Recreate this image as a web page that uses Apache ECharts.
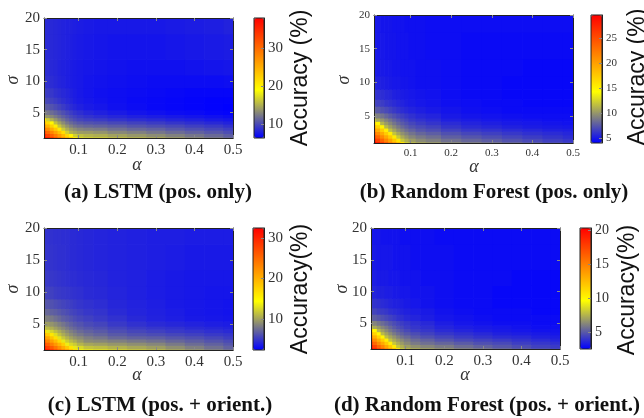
<!DOCTYPE html>
<html><head><meta charset="utf-8">
<script src="https://cdn.jsdelivr.net/npm/echarts@6/dist/echarts.min.js"></script>
<style>html,body{margin:0;padding:0;background:#fff}#c{width:644px;height:418px}</style>
</head><body><div id="c"></div>
<script>
// ---- data ----
const alphaValues = [0.01,0.02,0.03,0.04,0.05,0.06,0.07,0.08,0.09,0.1,0.125,0.15,0.2,0.25,0.3,0.35,0.4,0.45,0.5];
const sigmaValues = [1,1.5,2,2.5,3,3.5,4,4.5,5,6,7,8,10,12,15,20];

const accLstmPos = [
[38,35.8,33.7,31.5,29.3,27.1,24.9,22.8,20.6,17,16.5,16.2,15.6,15,14.5,13.8,13,12.3,11.5],
[35.2,33,30.8,28.7,26.5,24.3,22.1,19.9,16.6,15.8,15.2,14.9,14.3,13.8,13.3,12.7,12.1,11.5,10.9],
[32.4,30.2,28,25.9,23.7,21.5,16.5,15,14.5,14,13.9,13.6,13,12.6,12.1,11.6,11.1,10.6,10.1],
[29.6,27.4,25.2,23.1,20.9,16.3,14.8,13.9,13.3,12.8,12.5,12.3,11.8,11.4,11.1,10.6,10.2,9.8,9.4],
[26.8,24.6,22.4,20.3,16,14.6,13.5,12.6,12,11.6,11.3,11.1,10.8,10.4,10.1,9.8,9.4,9.1,8.7],
[24,21.8,19.6,15.8,14.3,13.2,12.2,11.5,11,10.6,10.3,10.1,9.8,9.5,9.2,8.9,8.6,8.3,8],
[21.2,16.5,15,13.8,12.8,12,11.2,10.6,10.1,9.7,9.4,9.2,8.9,8.6,8.4,8.1,7.9,7.6,7.4],
[14.2,13.6,13,12.3,11.6,11,10.4,9.9,9.5,9.1,8.8,8.5,8.2,7.9,7.7,7.5,7.3,7.1,6.9],
[12.6,12.2,11.7,11.2,10.7,10.2,9.7,9.3,8.9,8.6,8.2,7.9,7.6,7.3,7.1,6.9,6.8,6.6,6.5],
[11.2,10.8,10.4,10,9.6,9.2,8.8,8.5,8.2,7.9,7.6,7.4,7.1,6.9,6.7,6.6,6.5,6.4,6.3],
[10.2,9.8,9.5,9.2,8.9,8.6,8.3,8.1,7.8,7.6,7.4,7.2,7,6.8,6.7,6.6,6.5,6.4,6.4],
[9.5,9.2,9,8.7,8.5,8.3,8.1,7.9,7.7,7.5,7.3,7.1,7,6.9,6.8,6.7,6.6,6.6,6.6],
[8.9,8.7,8.5,8.3,8.1,8,7.8,7.7,7.6,7.5,7.3,7.2,7.1,7,6.9,6.9,6.9,6.9,7],
[8.6,8.5,8.3,8.2,8,7.9,7.8,7.7,7.6,7.5,7.4,7.3,7.2,7.1,7.1,7.1,7.2,7.3,7.4],
[8.5,8.4,8.3,8.2,8.1,8,7.9,7.8,7.7,7.6,7.5,7.4,7.3,7.3,7.3,7.4,7.5,7.6,7.7],
[8.5,8.4,8.3,8.2,8.1,8,7.9,7.9,7.8,7.7,7.6,7.5,7.5,7.5,7.5,7.6,7.7,7.8,8]
];
const accRfPos = [
[29.6,27.7,25.7,23.8,21.8,19.9,17.9,16,12,11.2,10.4,9.9,9.3,8.9,8.5,8,7.5,7,6.6],
[27.5,25.5,23.6,21.6,19.7,17.7,15.8,12,11,10.2,9.5,9.1,8.5,8.1,7.7,7.3,6.9,6.5,6.2],
[25.3,23.4,21.4,19.5,17.5,15.5,12,10.8,10,9.3,8.8,8.4,7.8,7.4,7.1,6.7,6.4,6.1,5.8],
[23.2,21.2,19.3,17.3,15.4,11.8,10.7,9.8,9.2,8.6,8.1,7.7,7.2,6.8,6.5,6.2,5.9,5.7,5.5],
[21,19.1,17.2,15.2,11.6,10.5,9.6,9,8.4,7.9,7.4,7.1,6.6,6.2,6,5.7,5.5,5.3,5.2],
[18.9,16.9,15,11.4,10.3,9.5,8.8,8.2,7.7,7.3,6.9,6.6,6.1,5.7,5.5,5.3,5.1,5,4.9],
[16.7,14.8,11.2,10.2,9.4,8.7,8.1,7.6,7.2,6.8,6.4,6.1,5.7,5.4,5.2,5,4.9,4.8,4.7],
[11.5,10.6,9.9,9.2,8.6,8,7.5,7.1,6.7,6.3,6,5.7,5.3,5.1,4.9,4.8,4.7,4.6,4.6],
[9.6,9.1,8.6,8.1,7.6,7.2,6.8,6.5,6.2,5.9,5.6,5.4,5,4.8,4.7,4.6,4.5,4.5,4.5],
[7.9,7.6,7.2,6.9,6.6,6.3,6,5.8,5.6,5.4,5.2,5,4.8,4.6,4.5,4.4,4.4,4.4,4.4],
[6.8,6.6,6.4,6.1,5.9,5.7,5.5,5.4,5.2,5.1,4.9,4.8,4.6,4.5,4.4,4.4,4.3,4.3,4.3],
[6.1,5.9,5.8,5.6,5.5,5.3,5.2,5.1,5,4.9,4.8,4.7,4.5,4.4,4.4,4.3,4.3,4.3,4.3],
[5.4,5.3,5.2,5.1,5,4.9,4.9,4.8,4.8,4.7,4.6,4.6,4.5,4.4,4.4,4.3,4.3,4.3,4.3],
[5.1,5,5,4.9,4.9,4.8,4.8,4.7,4.7,4.7,4.6,4.6,4.5,4.4,4.4,4.4,4.3,4.3,4.3],
[5,4.9,4.9,4.8,4.8,4.8,4.7,4.7,4.7,4.6,4.6,4.5,4.5,4.4,4.4,4.4,4.4,4.4,4.4],
[4.9,4.9,4.8,4.8,4.8,4.7,4.7,4.7,4.6,4.6,4.6,4.5,4.5,4.5,4.5,4.5,4.5,4.5,4.5]
];
const accLstmPosOri = [
[32.5,30.6,28.6,26.7,24.7,22.8,20.9,18.9,17,13.5,13,12.6,12,11.4,10.8,10,9.2,8.4,7.6],
[30,28,26.1,24.2,22.2,20.3,18.3,16.4,13.3,12.5,11.5,11.2,10.7,10.2,9.7,9,8.3,7.6,6.9],
[27.5,25.6,23.6,21.7,19.7,17.8,13.5,12.5,11.9,10.8,10.1,9.8,9.4,9,8.6,8,7.4,6.9,6.3],
[25,23,21.1,19.2,17.2,13.3,12,11.1,10.4,9.6,8.8,8.6,8.3,7.9,7.6,7.1,6.7,6.2,5.8],
[22.5,20.6,18.6,16.7,13,11.7,10.7,9.9,9.3,8.8,8.2,7.8,7.2,6.9,6.7,6.3,6,5.6,5.2],
[20,18,16.1,12.8,11.4,10.4,9.6,8.9,8.4,7.9,7.4,7,6.5,6.1,5.9,5.6,5.3,5,4.8],
[17.5,13.2,12.3,11.3,10.4,9.6,8.9,8.3,7.8,7.3,6.9,6.5,6,5.6,5.3,5,4.8,4.5,4.3],
[11.6,11.1,10.5,9.8,9.2,8.6,8,7.5,7.1,6.7,6.3,6,5.5,5.1,4.8,4.6,4.3,4.1,3.9],
[10.1,9.7,9.3,8.8,8.3,7.8,7.3,6.9,6.5,6.2,5.8,5.5,5,4.6,4.3,4.1,3.9,3.7,3.6],
[8.6,8.3,8,7.6,7.2,6.8,6.5,6.2,5.9,5.6,5.3,5,4.6,4.2,3.9,3.7,3.5,3.4,3.3],
[7.4,7.2,6.9,6.7,6.4,6.1,5.9,5.6,5.4,5.2,4.9,4.7,4.3,4,3.8,3.6,3.4,3.3,3.2],
[6.5,6.3,6.1,5.9,5.7,5.5,5.3,5.2,5,4.8,4.6,4.4,4.1,3.9,3.7,3.5,3.4,3.3,3.2],
[5.5,5.4,5.3,5.1,5,4.9,4.8,4.7,4.6,4.5,4.3,4.2,4,3.8,3.6,3.5,3.4,3.3,3.3],
[5.1,5,4.9,4.8,4.7,4.6,4.5,4.4,4.4,4.3,4.2,4.1,3.9,3.8,3.6,3.5,3.4,3.4,3.4],
[4.8,4.7,4.7,4.6,4.5,4.5,4.4,4.3,4.3,4.2,4.1,4,3.9,3.8,3.7,3.6,3.5,3.5,3.5],
[4.7,4.6,4.6,4.5,4.5,4.4,4.4,4.3,4.3,4.2,4.1,4,3.9,3.8,3.7,3.7,3.6,3.6,3.6]
];
const accRfPosOri = [
[20.3,18.9,17.5,16.2,14.8,13.4,12.1,10.7,8,7.6,7.2,6.9,6.5,6.1,5.8,5.4,5,4.7,4.4],
[18.8,17.4,16,14.7,13.3,11.9,10.5,8,7.4,6.9,6.5,6.2,5.9,5.5,5.2,4.9,4.6,4.3,4.1],
[17.3,15.9,14.5,13.2,11.8,10.4,8,7.3,6.8,6.3,5.9,5.6,5.3,5,4.7,4.5,4.2,4,3.8],
[15.8,14.4,13,11.7,10.3,7.9,7.2,6.7,6.3,5.9,5.5,5.2,4.8,4.5,4.3,4.1,3.9,3.7,3.5],
[14.2,12.9,11.5,10.1,7.8,7.1,6.6,6.1,5.7,5.4,5,4.7,4.4,4.1,3.9,3.7,3.6,3.4,3.3],
[12.7,11.4,10,7.7,7,6.4,5.9,5.5,5.2,4.9,4.6,4.3,4,3.8,3.6,3.4,3.3,3.2,3.1],
[11.2,9.9,7.6,6.9,6.3,5.8,5.4,5.1,4.8,4.5,4.2,4,3.7,3.5,3.3,3.2,3.1,3,3],
[7.7,7.2,6.7,6.2,5.8,5.4,5,4.7,4.5,4.2,4,3.8,3.5,3.3,3.2,3.1,3,2.9,2.9],
[6.5,6.2,5.8,5.5,5.2,4.9,4.6,4.4,4.2,4,3.8,3.6,3.3,3.1,3,2.9,2.9,2.8,2.8],
[5.3,5.1,4.9,4.7,4.5,4.3,4.1,3.9,3.8,3.6,3.5,3.3,3.1,3,2.9,2.8,2.8,2.8,2.8],
[4.5,4.4,4.2,4.1,4,3.8,3.7,3.6,3.5,3.4,3.3,3.2,3,2.9,2.8,2.8,2.8,2.7,2.7],
[4,3.9,3.8,3.7,3.6,3.5,3.4,3.4,3.3,3.2,3.1,3,2.9,2.8,2.8,2.7,2.7,2.7,2.7],
[3.5,3.5,3.4,3.4,3.3,3.3,3.2,3.2,3.1,3.1,3,3,2.9,2.8,2.8,2.7,2.7,2.7,2.7],
[3.3,3.3,3.2,3.2,3.2,3.1,3.1,3.1,3,3,3,2.9,2.9,2.8,2.8,2.8,2.7,2.7,2.7],
[3.2,3.2,3.1,3.1,3.1,3.1,3,3,3,3,2.9,2.9,2.9,2.8,2.8,2.8,2.8,2.8,2.8],
[3.1,3.1,3.1,3,3,3,3,3,2.9,2.9,2.9,2.9,2.8,2.8,2.8,2.8,2.8,2.8,2.8]
];
const colorRanges = [[6.3,38],[4,29.6],[2.3,32.5],[2.5,20.3]];
const xTickLabels = [0.1,0.2,0.3,0.4,0.5];
const yTickLabels = [5,10,15,20];
const colorbarTicks = [[10,20,30],[5,10,15,20,25],[10,20,30],[5,10,15,20]];
const captions = ['(a) LSTM (pos. only)','(b) Random Forest (pos. only)','(c) LSTM (pos. + orient.)','(d) Random Forest (pos. + orient.)'];
const colorbarTitles = ['Accuracy (%)','Accuracy (%)','Accuracy(%)','Accuracy(%)'];
const xName = 'α', yName = 'σ';

// ---- layout / style ----
const panels = [
 {acc:accLstmPos, plot:[44,18,189,120], cb:[254,18,10,120], fs:15, cbfs:15, cap:[158,193], an:[137,165], sn:[13,80], ct:[301,78]},
 {acc:accRfPos, plot:[374,15,199,128], cb:[591,15,11,128], fs:11, cbfs:11, cap:[494,193], an:[474,167], sn:[344,80], ct:[638,77]},
 {acc:accLstmPosOri, plot:[44,228,189,122], cb:[253,228,11,122], fs:15, cbfs:15, cap:[160,406], an:[137,375], sn:[13,289], ct:[301,289]},
 {acc:accRfPosOri, plot:[371,228,189,121], cb:[580,228,11,121], fs:15, cbfs:14, cap:[487,406], an:[465,375], sn:[342,289], ct:[628,290]}
];
const cmap = ['#0000ff','#4040c0','#808080','#c0c040','#ffff00','#ffd500','#ffaa00','#ff8000','#ff5500','#ff2b00','#ff0000'];
const lineCol = '#222', tickCol = '#888', labCol = '#333';

function cells(grid){
  const out=[]; const n=alphaValues.length, m=sigmaValues.length;
  for(let i=0;i<m;i++) for(let j=0;j<n;j++){
    const a0 = j===0?alphaValues[0]:(alphaValues[j-1]+alphaValues[j])/2;
    const a1 = j===n-1?alphaValues[n-1]:(alphaValues[j]+alphaValues[j+1])/2;
    const s0 = i===0?sigmaValues[0]:(sigmaValues[i-1]+sigmaValues[i])/2;
    const s1 = i===m-1?sigmaValues[m-1]:(sigmaValues[i]+sigmaValues[i+1])/2;
    out.push([a0,a1,s0,s1,grid[i][j]]);
  }
  return out;
}
function renderItem(params, api){
  const p0 = api.coord([api.value(0), api.value(3)]);
  const p1 = api.coord([api.value(1), api.value(2)]);
  return {type:'rect', shape:{x:p0[0], y:p0[1], width:p1[0]-p0[0]+0.7, height:p1[1]-p0[1]+0.7}, style:{fill:api.visual('color')}};
}

const grid=[], xAxis=[], yAxis=[], series=[], visualMap=[], graphic=[];
panels.forEach((p,k)=>{
  const gi = grid.length;
  grid.push({left:p.plot[0], top:p.plot[1], width:p.plot[2], height:p.plot[3], containLabel:false});
  grid.push({left:p.cb[0], top:p.cb[1], width:p.cb[2], height:p.cb[3], show:true, borderColor:lineCol, borderWidth:1, backgroundColor:'transparent', z:10});
  const tickStyle = {inside:true, length:3, lineStyle:{color:tickCol, width:1}};
  const xi = xAxis.length;
  xAxis.push({gridIndex:gi, type:'value', position:'bottom', min:alphaValues[0], max:alphaValues[alphaValues.length-1],
    axisLine:{show:true, onZero:false, lineStyle:{color:lineCol}}, splitLine:{show:false},
    axisTick:Object.assign({customValues:xTickLabels}, tickStyle),
    axisLabel:{customValues:xTickLabels, formatter:v=>v.toFixed(1), fontFamily:'Liberation Serif', fontSize:p.fs, color:labCol, margin:5}, z:5});
  xAxis.push({gridIndex:gi, type:'value', position:'top', min:alphaValues[0], max:alphaValues[alphaValues.length-1],
    axisLine:{show:true, onZero:false, lineStyle:{color:lineCol}}, splitLine:{show:false},
    axisTick:Object.assign({customValues:xTickLabels}, tickStyle), axisLabel:{show:false}, z:5});
  xAxis.push({gridIndex:gi+1, type:'value', min:0, max:1, show:false});
  const yi = yAxis.length;
  yAxis.push({gridIndex:gi, type:'value', position:'left', min:sigmaValues[0], max:sigmaValues[sigmaValues.length-1],
    axisLine:{show:true, onZero:false, lineStyle:{color:lineCol}}, splitLine:{show:false},
    axisTick:Object.assign({customValues:yTickLabels}, tickStyle),
    axisLabel:{customValues:yTickLabels, fontFamily:'Liberation Serif', fontSize:p.fs, color:labCol, margin:4}, z:5});
  yAxis.push({gridIndex:gi, type:'value', position:'right', min:sigmaValues[0], max:sigmaValues[sigmaValues.length-1],
    axisLine:{show:true, onZero:false, lineStyle:{color:lineCol}}, splitLine:{show:false},
    axisTick:Object.assign({customValues:yTickLabels}, tickStyle), axisLabel:{show:false}, z:5});
  yAxis.push({gridIndex:gi+1, type:'value', position:'right', min:colorRanges[k][0], max:colorRanges[k][1],
    axisLine:{show:true, onZero:false, lineStyle:{color:lineCol}}, splitLine:{show:false},
    axisTick:Object.assign({customValues:colorbarTicks[k]}, tickStyle),
    axisLabel:{customValues:colorbarTicks[k], fontFamily:'Liberation Serif', fontSize:p.cbfs, color:labCol, margin:4}, z:11});
  series.push({type:'custom', xAxisIndex:xi, yAxisIndex:yi, renderItem, data:cells(p.acc), clip:true,
    encode:{x:[0,1], y:[2,3]}, silent:true, animation:false});
  visualMap.push({type:'continuous', seriesIndex:k, dimension:4, min:colorRanges[k][0], max:colorRanges[k][1],
    inRange:{color:cmap}, calculable:false, orient:'vertical', left:p.cb[0], top:p.cb[1], itemWidth:p.cb[2], itemHeight:p.cb[3],
    padding:0, text:null, showLabel:false, hoverLink:false});
  graphic.push({type:'text', x:p.cap[0], y:p.cap[1], style:{text:captions[k], font:'bold 21px "Liberation Serif"', fill:'#111', textAlign:'center', textVerticalAlign:'middle'}});
  graphic.push({type:'text', x:p.an[0], y:p.an[1], style:{text:xName, font:'italic 18px "Liberation Serif"', fill:'#333', textAlign:'center', textVerticalAlign:'middle'}});
  graphic.push({type:'text', x:p.sn[0], y:p.sn[1], rotation:Math.PI/2, style:{text:yName, font:'italic 18px "Liberation Serif"', fill:'#333', textAlign:'center', textVerticalAlign:'middle'}});
  graphic.push({type:'text', x:p.ct[0], y:p.ct[1], rotation:Math.PI/2, style:{text:colorbarTitles[k], font:'23px "Liberation Sans"', fill:'#111', textAlign:'center', textVerticalAlign:'middle'}});
});

const chart = echarts.init(document.getElementById('c'), null, {renderer:'canvas'});
chart.setOption({animation:false, backgroundColor:'#fff', grid, xAxis, yAxis, series, visualMap, graphic});
</script></body></html>
